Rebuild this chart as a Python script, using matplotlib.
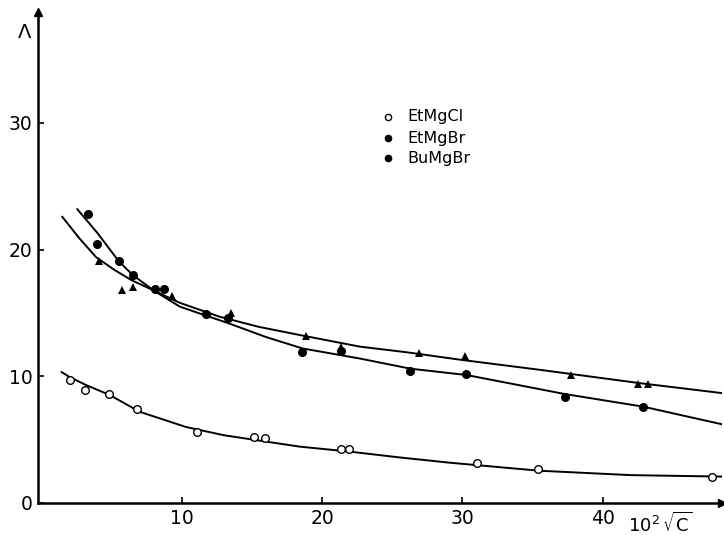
import matplotlib
matplotlib.use("Agg")
import matplotlib.pyplot as plt

# ---- data ----
cl_x = [2.04, 3.11, 4.80, 6.79, 11.11, 15.17, 15.94, 21.35, 21.92, 31.03, 35.37, 47.82]
cl_y = [9.71, 8.92, 8.60, 7.40, 5.58, 5.19, 5.11, 4.26, 4.26, 3.13, 2.71, 2.03]

big_x = [3.34, 3.96, 5.55, 6.51, 8.10, 8.74, 11.73, 13.30, 18.57, 21.33, 26.27, 30.26, 37.32, 42.86]
big_y = [22.81, 20.44, 19.08, 18.02, 16.89, 16.89, 14.89, 14.60, 11.94, 12.00, 10.42, 10.16, 8.39, 7.60]

small_x = [4.08, 5.72, 6.53, 9.31, 13.49, 18.86, 21.33, 26.94, 30.19, 37.75, 42.54, 43.26]
small_y = [19.10, 16.81, 17.07, 16.34, 14.97, 13.20, 12.34, 11.82, 11.63, 10.10, 9.37, 9.37]

# hand-drawn fitted curves (knots)
cl_curve_x = [1.43, 2.0, 3.2, 4.86, 7.0, 10.3, 13.0, 16.05, 18.4, 22.0, 25.5, 29.1, 35.45, 42.0, 48.7]
cl_curve_y = [10.34, 9.95, 9.30, 8.53, 7.20, 6.00, 5.35, 4.84, 4.45, 4.05, 3.60, 3.18, 2.55, 2.20, 2.08]

big_curve_x = [2.55, 4.0, 5.5, 6.5, 8.1, 9.86, 11.7, 13.3, 16.0, 18.6, 22.7, 26.3, 30.3, 37.3, 42.9, 48.55]
big_curve_y = [23.2, 21.3, 19.1, 18.0, 16.7, 15.5, 14.8, 14.2, 13.1, 12.2, 11.4, 10.6, 10.1, 8.6, 7.6, 6.2]

small_curve_x = [1.48, 2.7, 3.9, 5.2, 6.4, 8.14, 9.86, 12.7, 15.5, 18.4, 22.7, 26.0, 29.9, 35.6, 42.7, 48.6]
small_curve_y = [22.6, 20.9, 19.4, 18.4, 17.6, 16.7, 15.8, 14.7, 13.9, 13.26, 12.34, 11.9, 11.3, 10.5, 9.45, 8.66]

legend_labels = ["EtMgCl", "EtMgBr", "BuMgBr"]
x_ticks = [10, 20, 30, 40]
y_ticks = [0, 10, 20, 30]

W, H = 724, 535
fig = plt.figure(figsize=(W / 100, H / 100), dpi=100)
L, R, B, T = 38, 722, 503, 12
ax = fig.add_axes([L / W, (H - B) / H, (R - L) / W, (B - T) / H])

ax.set_xlim(-0.24, 48.5)
ax.set_ylim(0, 38.75)

for s in ["top", "right"]:
    ax.spines[s].set_visible(False)
for s in ["left", "bottom"]:
    ax.spines[s].set_linewidth(1.8)
ax.plot(0, 1, marker="^", color="k", markersize=6, transform=ax.transAxes, clip_on=False)
ax.plot(1, 0, marker=">", color="k", markersize=6, transform=ax.transAxes, clip_on=False)

ax.set_xticks(x_ticks)
ax.set_yticks(y_ticks)
ax.tick_params(direction="in", length=4, width=1.2, labelsize=13.5, pad=4)

lw = 1.4
ax.plot(cl_curve_x, cl_curve_y, color="k", lw=lw, solid_capstyle="round")
ax.plot(big_curve_x, big_curve_y, color="k", lw=lw, solid_capstyle="round")
ax.plot(small_curve_x, small_curve_y, color="k", lw=lw, solid_capstyle="round")

ax.plot(cl_x, cl_y, ls="none", marker="o", markersize=5.5, markerfacecolor="white",
        markeredgecolor="k", markeredgewidth=1.0, zorder=5)
ax.plot(small_x, small_y, ls="none", marker="^", markersize=5.5, color="k",
        markeredgewidth=0, zorder=5)
ax.plot(big_x, big_y, ls="none", marker="o", markersize=5.5, color="k", zorder=6)

# legend drawn manually
leg_y = [117, 138, 158]
leg_styles = [dict(marker="o", markersize=4.5, markerfacecolor="white", markeredgecolor="k", markeredgewidth=1.0),
              dict(marker="o", markersize=4.5, color="k"),
              dict(marker="o", markersize=4.5, color="k")]
for lab, yy, st in zip(legend_labels, leg_y, leg_styles):
    fig.lines.append(matplotlib.lines.Line2D([388 / W], [1 - yy / H], transform=fig.transFigure, ls="none", **st))
    fig.text(407 / W, 1 - yy / H, lab, fontsize=11.5, va="center", ha="left")

fig.text(25 / W, 1 - 33 / H, "Λ", fontsize=14, ha="center", va="center")
fig.text(660 / W, 1 - 524 / H, r"$10^2\,\sqrt{\mathrm{C}}$", fontsize=13, ha="center", va="center")

fig.savefig("out.png", dpi=100)
